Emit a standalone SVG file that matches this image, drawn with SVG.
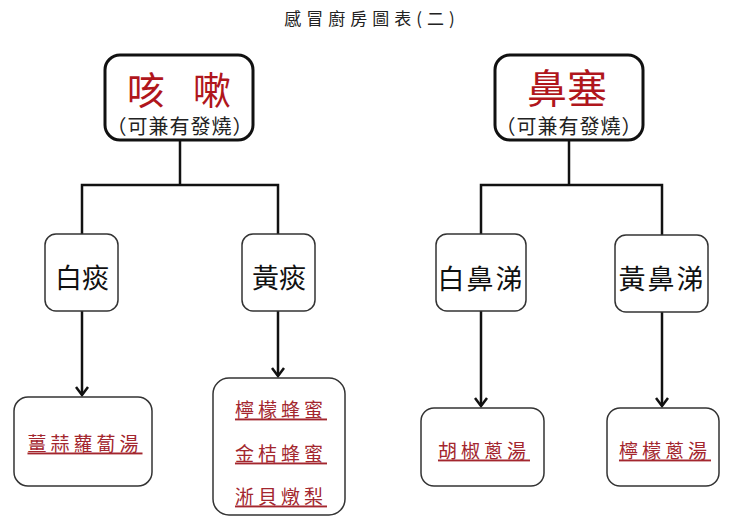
<svg xmlns="http://www.w3.org/2000/svg" width="738" height="525" viewBox="0 0 738 525">
<defs>
<style>
text{font-family:"Noto Sans CJK TC","Noto Sans CJK SC",sans-serif;text-anchor:middle;dominant-baseline:central}
.top{fill:#fff;stroke:#111;stroke-width:3}
.mid{fill:#fff;stroke:#333;stroke-width:1.5}
.title{font-size:17px;fill:#222;letter-spacing:5px}
.big{font-size:38px;fill:#b0161c}
.sub{font-size:20px;fill:#222;letter-spacing:1px}
.lvl{font-size:27px;fill:#111}
.rec{font-size:19px;fill:#a3262e;text-decoration:underline;letter-spacing:4px}
.c{fill:none;stroke:#111;stroke-width:2.5}
</style>
<marker id="arr" markerWidth="12" markerHeight="14" refX="10" refY="7" orient="auto" markerUnits="userSpaceOnUse" viewBox="0 0 12 14">
<polyline points="2,1 10,7 2,13" fill="none" stroke="#111" stroke-width="2.5"/>
</marker>
</defs>
<rect width="738" height="525" fill="#fff"/>
<text class="title" x="372" y="17">感冒廚房圖表(二)</text>
<g id="connectors">
<polyline class="c" points="180,140 180,185"/>
<polyline class="c" points="82,235 82,185 278,185 278,235"/>
<polyline class="c" points="569,140 569,185"/>
<polyline class="c" points="481,235 481,185 662,185 662,235"/>
<line class="c" x1="82" y1="311" x2="82" y2="395" marker-end="url(#arr)"/>
<line class="c" x1="278" y1="311" x2="278" y2="376" marker-end="url(#arr)"/>
<line class="c" x1="481" y1="311" x2="481" y2="406" marker-end="url(#arr)"/>
<line class="c" x1="662" y1="312" x2="662" y2="406" marker-end="url(#arr)"/>
</g>
<g id="cough">
<rect class="top" x="105" y="55" width="148" height="85" rx="15"/>
<text class="big" x="146" y="87">咳</text>
<text class="big" x="212" y="87">嗽</text>
<text class="sub" x="180" y="125">（可兼有發燒）</text>
</g>
<g id="nasal">
<rect class="top" x="495" y="55" width="148" height="85" rx="15"/>
<text class="big" x="567" y="86" style="font-size:40px">鼻塞</text>
<text class="sub" x="569" y="125">（可兼有發燒）</text>
</g>
<g id="white-phlegm">
<rect class="mid" x="45" y="234" width="73" height="77" rx="11"/>
<text class="lvl" x="82" y="276">白痰</text>
</g>
<g id="yellow-phlegm">
<rect class="mid" x="242" y="234" width="73" height="77" rx="11"/>
<text class="lvl" x="279" y="276">黃痰</text>
</g>
<g id="white-nasal">
<rect class="mid" x="436" y="234" width="90" height="77" rx="11"/>
<text class="lvl" x="481" y="277" style="letter-spacing:2px">白鼻涕</text>
</g>
<g id="yellow-nasal">
<rect class="mid" x="615" y="235" width="93" height="77" rx="11"/>
<text class="lvl" x="662" y="277" style="letter-spacing:2px">黃鼻涕</text>
</g>
<g id="recipe1">
<rect class="mid" x="14" y="397" width="138" height="89" rx="14"/>
<text class="rec" x="85" y="442">薑蒜蘿蔔湯</text>
</g>
<g id="recipe2">
<rect class="mid" x="213" y="378" width="132" height="137" rx="16"/>
<text class="rec" x="281" y="408">檸檬蜂蜜</text>
<text class="rec" x="281" y="452">金桔蜂蜜</text>
<text class="rec" x="281" y="495">淅貝燉梨</text>
</g>
<g id="recipe3">
<rect class="mid" x="421" y="408" width="123" height="78" rx="13"/>
<text class="rec" x="484" y="449">胡椒蔥湯</text>
</g>
<g id="recipe4">
<rect class="mid" x="607" y="408" width="112" height="78" rx="13"/>
<text class="rec" x="665" y="449">檸檬蔥湯</text>
</g>
</svg>
